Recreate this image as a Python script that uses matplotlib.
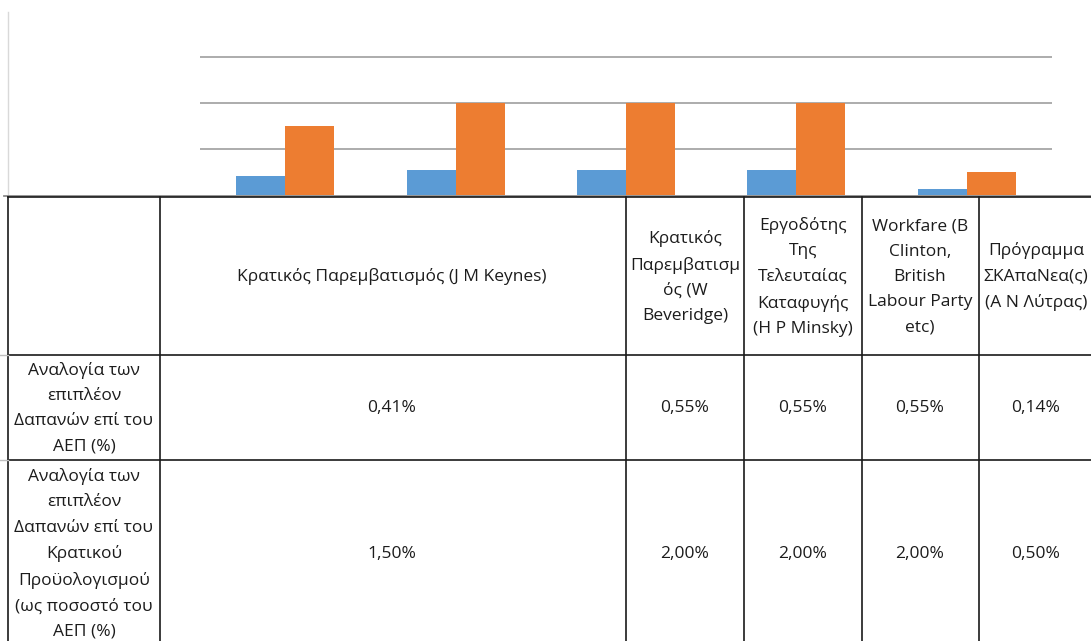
import matplotlib.pyplot as plt
from matplotlib.lines import Line2D

plt.rcParams['font.family'] = ['Open Sans', 'DejaVu Sans']

# Data
categories = [
    'Κρατικός Παρεμβατισμός (J M Keynes)',
    'Κρατικός\nΠαρεμβατισμ\nός (W\nBeveridge)',
    'Εργοδότης\nΤης\nΤελευταίας\nΚαταφυγής\n(H P Minsky)',
    'Workfare (B\nClinton,\nBritish\nLabour Party\netc)',
    'Πρόγραμμα\nΣΚΑπαΝεα(ς)\n(Α Ν Λύτρας)',
]
row_labels = [
    'Αναλογία των\nεπιπλέον\nΔαπανών επί του\nΑΕΠ (%)',
    'Αναλογία των\nεπιπλέον\nΔαπανών επί του\nΚρατικού\nΠροϋολογισμού\n(ως ποσοστό του\nΑΕΠ (%)',
]
gdp_share = [0.41, 0.55, 0.55, 0.55, 0.14]
budget_share = [1.50, 2.00, 2.00, 2.00, 0.50]

W, H = 1091, 641
fig = plt.figure(figsize=(W / 100, H / 100), dpi=100)


def fx(x):
    return x / W


def fy(y):
    return 1 - y / H


# Chart area (plot area sits right of the y axis line)
ax = fig.add_axes([fx(200), fy(195), fx(1052) - fx(200), fy(11) - fy(195)])
xs = range(len(categories))
w = 0.288
ax.bar([x - w / 2 for x in xs], gdp_share, width=w, color='#5B9BD5', zorder=3)
ax.bar([x + w / 2 for x in xs], budget_share, width=w, color='#ED7D31', zorder=3)
ax.set_xlim(-0.5, len(categories) - 0.5)
ax.set_ylim(0, 4)
for g in [1, 2, 3]:
    ax.axhline(g, color='#A6A6A6', lw=1.3, zorder=1)
ax.axis('off')

# y axis line and baseline
fig.add_artist(Line2D([fx(8), fx(8)], [fy(12), fy(195)], color='#D9D9D9', lw=1))
fig.add_artist(Line2D([fx(4), fx(1091)], [fy(195.5), fy(195.5)], color='#8C8C8C', lw=1.3))

# Data table grid
col_edges = [8, 160, 626, 744, 862, 979]
row_edges = [197, 355, 460, 641]
for y in row_edges[:-1]:
    fig.add_artist(Line2D([fx(8), fx(1091)], [fy(y), fy(y)], color='#1a1a1a', lw=1.2))
for x in col_edges:
    fig.add_artist(Line2D([fx(x), fx(x)], [fy(197), fy(641)], color='#1a1a1a', lw=1.2))
for y in row_edges[1:-1]:
    fig.add_artist(Line2D([fx(0), fx(8)], [fy(y), fy(y)], color='#BFBFBF', lw=1))

col_centers = [392, 685, 803, 920, 1036]
txt = dict(ha='center', va='center', fontsize=12.5, color='#1c1c1c', linespacing=1.76)

header_y = 277
for cx, label in zip(col_centers, categories):
    fig.text(fx(cx), fy(header_y), label, **txt)

row_y = [408, 554]
series = [gdp_share, budget_share]
for ry, label, vals in zip(row_y, row_labels, series):
    fig.text(fx(84), fy(ry), label, **txt)
    for cx, v in zip(col_centers, vals):
        fig.text(fx(cx), fy(ry), f'{v:.2f}%'.replace('.', ','), **txt)

fig.savefig('out.png', dpi=100)
